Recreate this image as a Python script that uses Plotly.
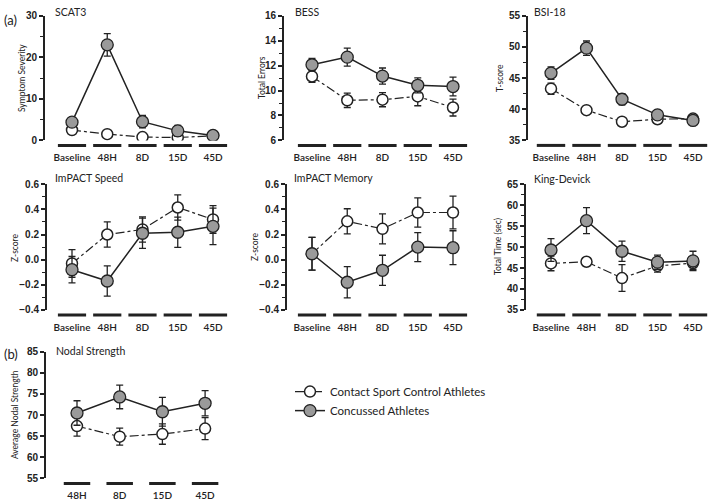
import plotly.graph_objects as go

# ---------------- data ----------------
cats5 = ["Baseline", "48H", "8D", "15D", "45D"]
cats4 = ["48H", "8D", "15D", "45D"]

scat3_conc = [4.4, 23.0, 4.5, 2.3, 1.2]
scat3_conc_err = [0.6, 2.7, 1.5, 1.3, 0.3]
scat3_ctrl = [2.5, 1.5, 0.8, 0.7, 1.1]
scat3_ctrl_err = [0.4, 0.5, 0.3, 0.4, 0.3]

bess_conc = [12.07, 12.68, 11.16, 10.42, 10.32]
bess_conc_err = [0.5, 0.72, 0.65, 0.6, 0.75]
bess_ctrl = [11.13, 9.22, 9.27, 9.53, 8.64]
bess_ctrl_err = [0.48, 0.58, 0.57, 0.75, 0.68]

bsi_conc = [45.8, 49.8, 41.6, 39.1, 38.2]
bsi_conc_err = [1.0, 1.15, 0.9, 0.7, 0.6]
bsi_ctrl = [43.3, 39.85, 38.0, 38.4, 38.5]
bsi_ctrl_err = [0.9, 0.7, 0.3, 0.6, 0.5]

speed_conc = [-0.08, -0.17, 0.21, 0.218, 0.265]
speed_conc_err = [0.105, 0.12, 0.12, 0.12, 0.145]
speed_ctrl = [-0.03, 0.2, 0.24, 0.415, 0.32]
speed_ctrl_err = [0.11, 0.1, 0.1, 0.1, 0.11]

memory_conc = [0.047, -0.18, -0.085, 0.1, 0.095]
memory_conc_err = [0.13, 0.125, 0.12, 0.115, 0.135]
memory_ctrl = [0.047, 0.305, 0.245, 0.375, 0.375]
memory_ctrl_err = [0.13, 0.1, 0.12, 0.117, 0.13]

kd_conc = [49.3, 56.3, 49.0, 46.4, 46.7]
kd_conc_err = [2.7, 3.1, 2.4, 1.7, 2.3]
kd_ctrl = [46.1, 46.5, 42.6, 45.5, 46.2]
kd_ctrl_err = [1.75, 1.0, 3.2, 1.5, 1.5]

nodal_conc = [70.5, 74.3, 70.8, 72.8]
nodal_conc_err = [2.9, 2.8, 3.4, 3.0]
nodal_ctrl = [67.4, 64.9, 65.5, 66.8]
nodal_ctrl_err = [2.4, 2.0, 2.4, 2.6]

series_names = ["Contact Sport Control Athletes", "Concussed Athletes"]

# ---------------- layout spec ----------------
W, H = 709, 501
INK = "#222222"
GRAY = "#9a9a9a"

panels = [
    dict(title="SCAT3", ytitle="Symptom Severity", cats=cats5,
         conc=scat3_conc, conc_err=scat3_conc_err, ctrl=scat3_ctrl, ctrl_err=scat3_ctrl_err,
         yr=[0, 30], dtick=10, minor=5, fmt="",
         axis_px=45, c0=72, step=35.25, top=10, bottom=138, ytpx=22, tpx=6, txpx=53),
    dict(title="BESS", ytitle="Total Errors", cats=cats5,
         conc=bess_conc, conc_err=bess_conc_err, ctrl=bess_ctrl, ctrl_err=bess_ctrl_err,
         yr=[6, 16], dtick=2, minor=1, fmt="",
         axis_px=284, c0=312, step=35.25, top=10, bottom=138, ytpx=262, tpx=6, txpx=293),
    dict(title="BSI-18", ytitle="T-score", cats=cats5,
         conc=bsi_conc, conc_err=bsi_conc_err, ctrl=bsi_ctrl, ctrl_err=bsi_ctrl_err,
         yr=[35, 55], dtick=5, minor=2.5, fmt="",
         axis_px=528, c0=551, step=35.5, top=10, bottom=138, ytpx=500, tpx=6, txpx=532),
    dict(title="ImPACT Speed", ytitle="Z-score", cats=cats5,
         conc=speed_conc, conc_err=speed_conc_err, ctrl=speed_ctrl, ctrl_err=speed_ctrl_err,
         yr=[-0.4, 0.6], dtick=0.2, minor=0.1, fmt=".1f",
         axis_px=47, c0=72, step=35.25, top=183, bottom=312, ytpx=15, tpx=177, txpx=53),
    dict(title="ImPACT Memory", ytitle="Z-score", cats=cats5,
         conc=memory_conc, conc_err=memory_conc_err, ctrl=memory_ctrl, ctrl_err=memory_ctrl_err,
         yr=[-0.4, 0.6], dtick=0.2, minor=0.1, fmt=".1f",
         axis_px=287, c0=312, step=35.25, top=183, bottom=312, ytpx=255, tpx=177, txpx=292),
    dict(title="King-Devick", ytitle="Total Time (sec)", cats=cats5,
         conc=kd_conc, conc_err=kd_conc_err, ctrl=kd_ctrl, ctrl_err=kd_ctrl_err,
         yr=[35, 65], dtick=5, minor=2.5, fmt="",
         axis_px=526, c0=551, step=35.5, top=183, bottom=312, ytpx=498, tpx=178, txpx=532),
    dict(title="Nodal Strength", ytitle="Average Nodal Strength", cats=cats4,
         conc=nodal_conc, conc_err=nodal_conc_err, ctrl=nodal_ctrl, ctrl_err=nodal_ctrl_err,
         yr=[55, 85], dtick=5, minor=None, fmt="",
         axis_px=46, c0=77, step=42.7, top=355, bottom=485, ytpx=15, tpx=354, txpx=54),
]

fig = go.Figure()
layout = dict(
    width=W, height=H,
    margin=dict(l=0, r=0, t=0, b=0),
    paper_bgcolor="white", plot_bgcolor="white",
    showlegend=True,
    legend=dict(x=290 / W, y=1 - 381 / H, xanchor="left", yanchor="top",
                font=dict(family="Lato", size=11.5, color=INK),
                bgcolor="rgba(0,0,0,0)", itemwidth=30, tracegroupgap=0),
)
shapes = []
annotations = []

for i, p in enumerate(panels):
    n = i + 1
    xa = "x" if n == 1 else f"x{n}"
    ya = "y" if n == 1 else f"y{n}"
    ncat = len(p["cats"])
    lo = (p["axis_px"] - p["c0"]) / p["step"]
    hi = ncat - 1 + 0.45
    left_px = p["axis_px"]
    right_px = min(W, p["c0"] + hi * p["step"])
    hi = (right_px - p["c0"]) / p["step"]
    dom_x = [left_px / W, right_px / W]
    dom_y = [1 - p["bottom"] / H, 1 - p["top"] / H]

    last = (n == 7)
    fig.add_trace(go.Scatter(
        x=p["cats"], y=p["ctrl"], xaxis=xa, yaxis=ya,
        name=series_names[0], showlegend=last, mode="lines+markers",
        line=dict(color=INK, width=1.2, dash="dashdot"),
        marker=dict(symbol="circle", size=11, color="white", line=dict(color=INK, width=1.5)),
        error_y=dict(type="data", array=p["ctrl_err"], color=INK, thickness=1.3, width=3.5),
    ))
    fig.add_trace(go.Scatter(
        x=p["cats"], y=p["conc"], xaxis=xa, yaxis=ya,
        name=series_names[1], showlegend=last, mode="lines+markers",
        line=dict(color=INK, width=1.5),
        marker=dict(symbol="circle", size=12, color=GRAY, line=dict(color=INK, width=1.3)),
        error_y=dict(type="data", array=p["conc_err"], color=INK, thickness=1.3, width=3.5),
    ))

    xkey = "xaxis" if n == 1 else f"xaxis{n}"
    ykey = "yaxis" if n == 1 else f"yaxis{n}"
    layout[xkey] = dict(
        domain=dom_x, anchor=ya, type="category", range=[lo, hi],
        showline=False, showgrid=False, zeroline=False,
        ticks="outside", ticklen=8, tickcolor="rgba(0,0,0,0)",
        tickfont=dict(family="Lato", size=10, color=INK, weight=600),
        fixedrange=True,
    )
    ydict = dict(
        domain=dom_y, anchor=xa, range=p["yr"], dtick=p["dtick"], tick0=p["yr"][0],
        showline=True, linecolor=INK, linewidth=2,
        showgrid=False, zeroline=False,
        ticks="outside", ticklen=4, tickwidth=1.5, tickcolor=INK,
        tickfont=dict(family="Liberation Sans", size=10, color=INK, weight="bold"),
        tickformat=p["fmt"], fixedrange=True,
    )
    if p["minor"]:
        ydict["minor"] = dict(dtick=p["minor"], tick0=p["yr"][0], ticks="outside",
                              ticklen=3, tickwidth=1.3, tickcolor=INK, showgrid=False)
    layout[ykey] = ydict

    # category under-bars
    half = 0.4 if ncat == 5 else 0.31
    for k in range(ncat):
        shapes.append(dict(type="line", xref=xa, yref=f"{ya} domain",
                           x0=k - half, x1=k + half, y0=-0.04, y1=-0.04,
                           line=dict(color=INK, width=3)))

    # panel title
    annotations.append(dict(text=p["title"], xref="paper", yref="paper",
                            x=p["txpx"] / W, y=1 - p["tpx"] / H,
                            xanchor="left", yanchor="middle",
                            showarrow=False, font=dict(family="Lato", size=10.5, color=INK)))
    # y-axis title
    annotations.append(dict(text=p["ytitle"], xref=f"{xa} domain", yref=f"{ya} domain",
                            x=0, y=0.5, xanchor="center", yanchor="middle",
                            xshift=p["ytpx"] - p["axis_px"], textangle=-90,
                            showarrow=False, font=dict(family="Lato", size=8.5, color=INK)))

annotations.append(dict(text="(a)", xref="paper", yref="paper", x=2 / W, y=1 - 14 / H,
                        xanchor="left", yanchor="middle", showarrow=False,
                        font=dict(family="Lato", size=13, color=INK)))
annotations.append(dict(text="(b)", xref="paper", yref="paper", x=2 / W, y=1 - 357 / H,
                        xanchor="left", yanchor="middle", showarrow=False,
                        font=dict(family="Lato", size=13, color=INK)))

layout["shapes"] = shapes
layout["annotations"] = annotations
fig.update_layout(**layout)
fig.write_html("out.html", config={"displayModeBar": False},
               post_script="document.body.style.margin='0';document.body.style.padding='0';")
